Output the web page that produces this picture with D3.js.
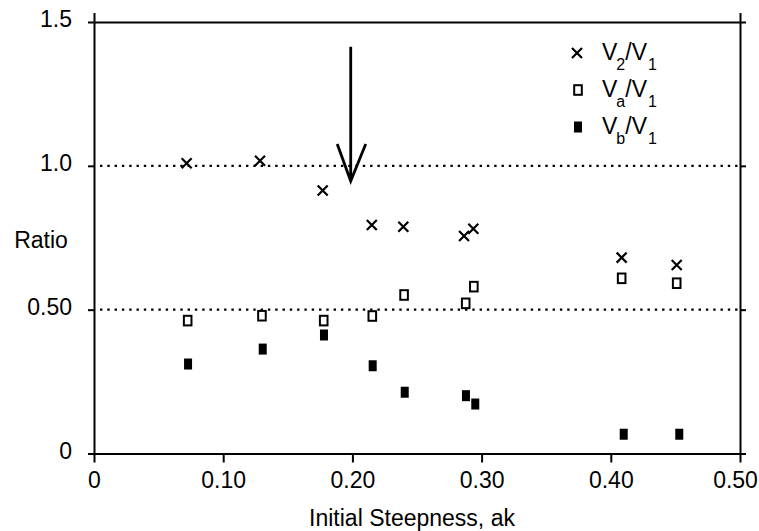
<!DOCTYPE html>
<html>
<head>
<meta charset="utf-8">
<script src="https://cdn.jsdelivr.net/npm/d3@7"></script>
<style>
  html, body { margin: 0; padding: 0; background: #fff; }
  svg { display: block; font-family: "Liberation Sans", Arial, Helvetica, sans-serif; }
</style>
</head>
<body>
<svg id="chart" width="759" height="531"></svg>
<script>
// ---- data ----
const xTicks = [0, 0.1, 0.2, 0.3, 0.4, 0.5];
const xTickLabels = ["0", "0.10", "0.20", "0.30", "0.40", "0.50"];
const yTicks = [0, 0.5, 1.0, 1.5];
const yTickLabels = ["0", "0.50", "1.0", "1.5"];
const refLines = [0.5, 1.0];

// V2/V1 (x markers)
const v2Steep = [0.0717, 0.1285, 0.177, 0.215, 0.2394, 0.2864, 0.2936, 0.4084, 0.451];
const v2Ratio = [1.009, 1.018, 0.914, 0.794, 0.788, 0.756, 0.781, 0.681, 0.655];
// Va/V1 (open squares)
const vaSteep = [0.0725, 0.130, 0.1778, 0.2154, 0.240, 0.2877, 0.294, 0.4084, 0.451];
const vaRatio = [0.462, 0.479, 0.462, 0.478, 0.551, 0.522, 0.580, 0.609, 0.592];
// Vb/V1 (filled squares)
const vbSteep = [0.0728, 0.1306, 0.178, 0.2157, 0.2405, 0.2879, 0.2951, 0.410, 0.453];
const vbRatio = [0.311, 0.363, 0.412, 0.305, 0.213, 0.201, 0.172, 0.067, 0.067];

// annotation arrow (data units)
const arrowX = 0.1987;
const arrowFrom = 1.414;
const arrowTo = 0.947;

const legendItems = [
  { sub1: "2", kind: "x" },
  { sub1: "a", kind: "open" },
  { sub1: "b", kind: "filled" }
];

// ---- layout ----
const svg = d3.select("#chart");
const x = d3.scaleLinear().domain([0, 0.5]).range([94, 740]);
const y = d3.scaleLinear().domain([0, 1.5]).range([453.5, 22]);
const FONT = 23;

// reference dotted lines
svg.append("g").selectAll("line").data(refLines).join("line")
  .attr("x1", x(0) + 6).attr("x2", x(0.5) - 1)
  .attr("y1", d => y(d)).attr("y2", d => y(d))
  .attr("stroke", "#000").attr("stroke-width", 2.4)
  .attr("stroke-dasharray", "2.4 4.9");

// axes
function styleAxis(g) {
  g.selectAll("path.domain").attr("stroke", "#000").attr("stroke-width", 2);
  g.selectAll(".tick line").attr("stroke", "#000").attr("stroke-width", 2);
  g.selectAll(".tick text").attr("fill", "#000").style("font-size", FONT + "px")
    .style("font-family", "'Liberation Sans', Arial, sans-serif");
}

const gBottom = svg.append("g").attr("transform", `translate(0,${y(0)})`)
  .call(d3.axisBottom(x).tickValues(xTicks).tickSize(9).tickSizeOuter(0).tickPadding(9)
    .tickFormat((d, i) => xTickLabels[i]));
styleAxis(gBottom);
gBottom.selectAll(".tick text").filter(d => d === 0.5).attr("dx", -5);

const gLeft = svg.append("g").attr("transform", `translate(${x(0)},0)`)
  .call(d3.axisLeft(y).tickValues(yTicks).tickSize(6).tickSizeOuter(0).tickPadding(16)
    .tickFormat((d, i) => yTickLabels[i]));
styleAxis(gLeft);
gLeft.selectAll(".tick text").attr("dy", "0.2em");

const gRight = svg.append("g").attr("transform", `translate(${x(0.5)},0)`)
  .call(d3.axisRight(y).tickValues(yTicks).tickSize(6).tickSizeOuter(0).tickFormat(""));
styleAxis(gRight);

const gTop = svg.append("g").attr("transform", `translate(0,${y(1.5)})`)
  .call(d3.axisTop(x).tickValues([0, 0.5]).tickSize(9).tickSizeOuter(0).tickFormat(""));
styleAxis(gTop);

// axis titles
svg.append("text").attr("x", 412).attr("y", 526)
  .attr("text-anchor", "middle").style("font-size", FONT + "px").text("Initial Steepness, ak");
svg.append("text").attr("x", 41).attr("y", 248)
  .attr("text-anchor", "middle").style("font-size", FONT + "px").text("Ratio");

// markers
function drawX(g, cx, cy) {
  const h = 5;
  g.append("path")
    .attr("d", `M${cx - h},${cy - h}L${cx + h},${cy + h}M${cx + h},${cy - h}L${cx - h},${cy + h}`)
    .attr("stroke", "#000").attr("stroke-width", 2.2).attr("fill", "none");
}
function drawOpen(g, cx, cy) {
  g.append("rect").attr("x", cx - 3.8).attr("y", cy - 4.8).attr("width", 7.6).attr("height", 9.6)
    .attr("fill", "#fff").attr("stroke", "#000").attr("stroke-width", 2);
}
function drawFilled(g, cx, cy) {
  g.append("rect").attr("x", cx - 4).attr("y", cy - 5.5).attr("width", 8).attr("height", 11)
    .attr("fill", "#000");
}

const gPts = svg.append("g");
vbSteep.forEach((s, i) => drawFilled(gPts, x(s), y(vbRatio[i])));
vaSteep.forEach((s, i) => drawOpen(gPts, x(s), y(vaRatio[i])));
v2Steep.forEach((s, i) => drawX(gPts, x(s), y(v2Ratio[i])));

// arrow
const ax = x(arrowX);
svg.append("path")
  .attr("d", `M${ax},${y(arrowFrom)}L${ax},${y(arrowTo) - 1}M${ax - 13.5},${y(arrowTo) - 37}L${ax},${y(arrowTo)}L${ax + 15},${y(arrowTo) - 37}`)
  .attr("stroke", "#000").attr("stroke-width", 2.8).attr("fill", "none")
  .attr("stroke-linejoin", "miter");

// legend
const legRowY = [53, 90, 127];
const legend = svg.append("g");
legendItems.forEach((it, i) => {
  const cy = legRowY[i];
  if (it.kind === "x") drawX(legend, 577, cy);
  else if (it.kind === "open") drawOpen(legend, 578, cy);
  else drawFilled(legend, 578, cy);
  const t = legend.append("text").attr("x", 602).attr("y", cy + 7)
    .style("font-size", FONT + "px");
  t.append("tspan").text("V");
  t.append("tspan").attr("dx", -1).attr("dy", 10).style("font-size", "16px").text(it.sub1);
  t.append("tspan").attr("dy", -10).text("/");
  t.append("tspan").text("V");
  t.append("tspan").attr("dx", 1).attr("dy", 10).style("font-size", "16px").text("1");
});
</script>
</body>
</html>
